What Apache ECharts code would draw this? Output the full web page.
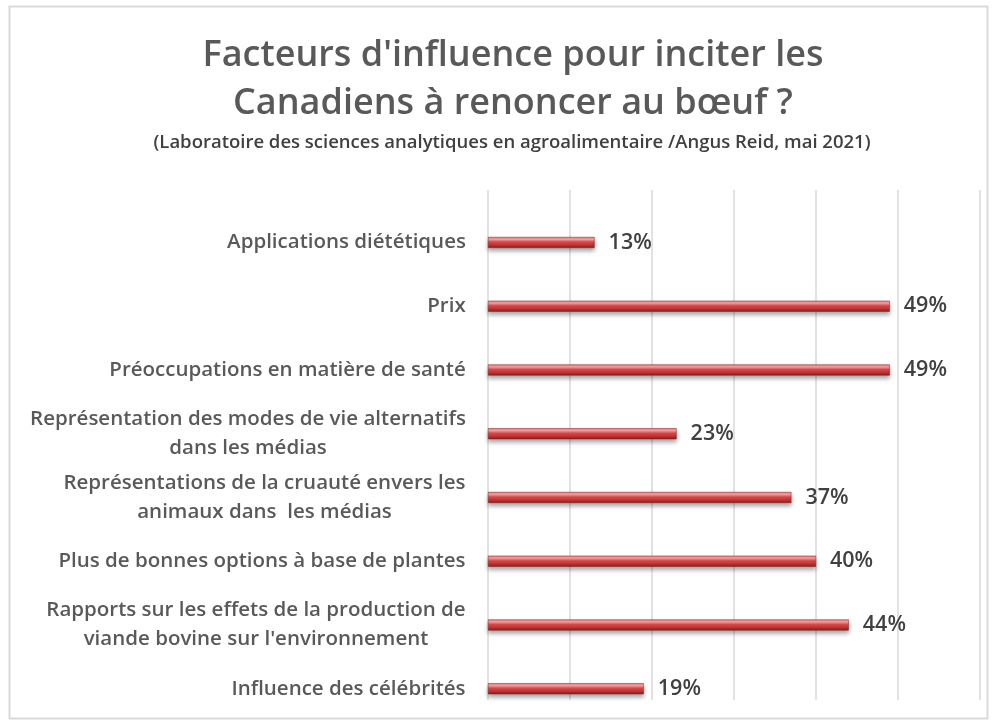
<!DOCTYPE html>
<html>
<head>
<meta charset="utf-8">
<script src="https://cdn.jsdelivr.net/npm/echarts@6/dist/echarts.min.js"></script>
<style>
  html, body { margin: 0; padding: 0; background: #fff; }
  #chart { width: 996px; height: 723px; }
</style>
</head>
<body>
<div id="chart"></div>
<script>
// données (de haut en bas)
const categories = [
  'Applications diététiques',
  'Prix',
  'Préoccupations en matière de santé',
  'Représentation des modes de vie alternatifs\ndans les médias',
  'Représentations de la cruauté envers les\nanimaux dans  les médias',
  'Plus de bonnes options à base de plantes',
  'Rapports sur les effets de la production de\nviande bovine sur l\'environnement',
  'Influence des célébrités'
]
const values = [13, 49, 49, 23, 37, 40, 44, 19]
const xTicks = [0, 10, 20, 30, 40, 50, 60]

const titleText = 'Facteurs d\'influence pour inciter les\nCanadiens à renoncer au bœuf ?'
const subText = '(Laboratoire des sciences analytiques en agroalimentaire /Angus Reid, mai 2021)'

const labelSize = 20.5
const labelFont = '600 ' + labelSize + 'px "Open Sans"'
const labelColor = '#595959'

// largeur des libellés sur plusieurs lignes -> lignes centrées entre elles
const ctx = document.createElement('canvas').getContext('2d')
ctx.font = labelFont
const rich = {}
categories.forEach((c, i) => {
  const lines = c.split('\n')
  const w = Math.max(...lines.map(l => ctx.measureText(l).width))
  rich['r' + i] = {
    width: Math.ceil(w) + 2,
    align: 'center',
    fontFamily: 'Open Sans',
    fontWeight: 600,
    fontSize: labelSize,
    lineHeight: 29,
    color: labelColor
  }
})

const myChart = echarts.init(document.getElementById('chart'))

const option = {
  backgroundColor: '#fff',
  animation: false,
  title: [
    {
      text: titleText,
      left: 508,
      top: 27,
      textAlign: 'center',
      textStyle: {
        fontFamily: 'Open Sans',
        fontWeight: 600,
        fontSize: 36,
        lineHeight: 48,
        color: '#595959'
      }
    },
    {
      text: subText,
      left: 507,
      top: 127,
      textAlign: 'center',
      textStyle: {
        fontFamily: 'Open Sans',
        fontWeight: 600,
        fontSize: 18.5,
        lineHeight: 22,
        color: '#404040'
      }
    }
  ],
  graphic: [
    {
      type: 'rect',
      shape: {x: 9.5, y: 6.5, width: 978, height: 712},
      style: {fill: 'none', stroke: '#d9d9d9', lineWidth: 2},
      silent: true
    }
  ],
  grid: [
    // grille verticale
    {left: 488, right: 16, top: 190, height: 510},
    // barres (décalées vers le bas comme dans l'original)
    {left: 488, right: 16, top: 210.6, height: 510}
  ],
  xAxis: [
    {
      gridIndex: 0,
      type: 'value',
      min: xTicks[0],
      max: xTicks[xTicks.length - 1],
      interval: 10,
      axisLine: {show: false},
      axisTick: {show: false},
      axisLabel: {show: false},
      splitLine: {lineStyle: {color: '#d9d9d9', width: 1.5}}
    },
    {
      gridIndex: 1,
      type: 'value',
      min: xTicks[0],
      max: xTicks[xTicks.length - 1],
      interval: 10,
      show: false,
      splitLine: {show: false}
    }
  ],
  yAxis: [
    {
      gridIndex: 0,
      type: 'value',
      show: false
    },
    {
      gridIndex: 1,
      type: 'category',
      inverse: true,
      data: categories,
      axisLine: {show: false},
      axisTick: {show: false},
      axisLabel: {
        margin: 21,
        formatter: (val, idx) => val.split('\n').map(l => '{r' + idx + '|' + l + '}').join('\n'),
        rich: rich
      }
    }
  ],
  series: [
    {
      name: 'Facteurs',
      type: 'bar',
      xAxisIndex: 1,
      yAxisIndex: 1,
      barWidth: 11,
      data: values,
      itemStyle: {
        color: new echarts.graphic.LinearGradient(0, 0, 0, 1, [
          {offset: 0, color: '#e87a7a'},
          {offset: 0.22, color: '#f7a3a3'},
          {offset: 0.45, color: '#dc4b4b'},
          {offset: 0.75, color: '#bf3131'},
          {offset: 1, color: '#7d1d1d'}
        ]),
        borderColor: '#8e2020',
        borderWidth: 0.5,
        shadowColor: 'rgba(0,0,0,0.35)',
        shadowBlur: 4,
        shadowOffsetY: 3
      },
      label: {
        show: true,
        position: 'right',
        distance: 14,
        formatter: '{c}%',
        fontFamily: 'Open Sans',
        fontWeight: 600,
        fontSize: 21.5,
        color: '#404040'
      }
    }
  ]
}

myChart.setOption(option)
</script>
</body>
</html>
